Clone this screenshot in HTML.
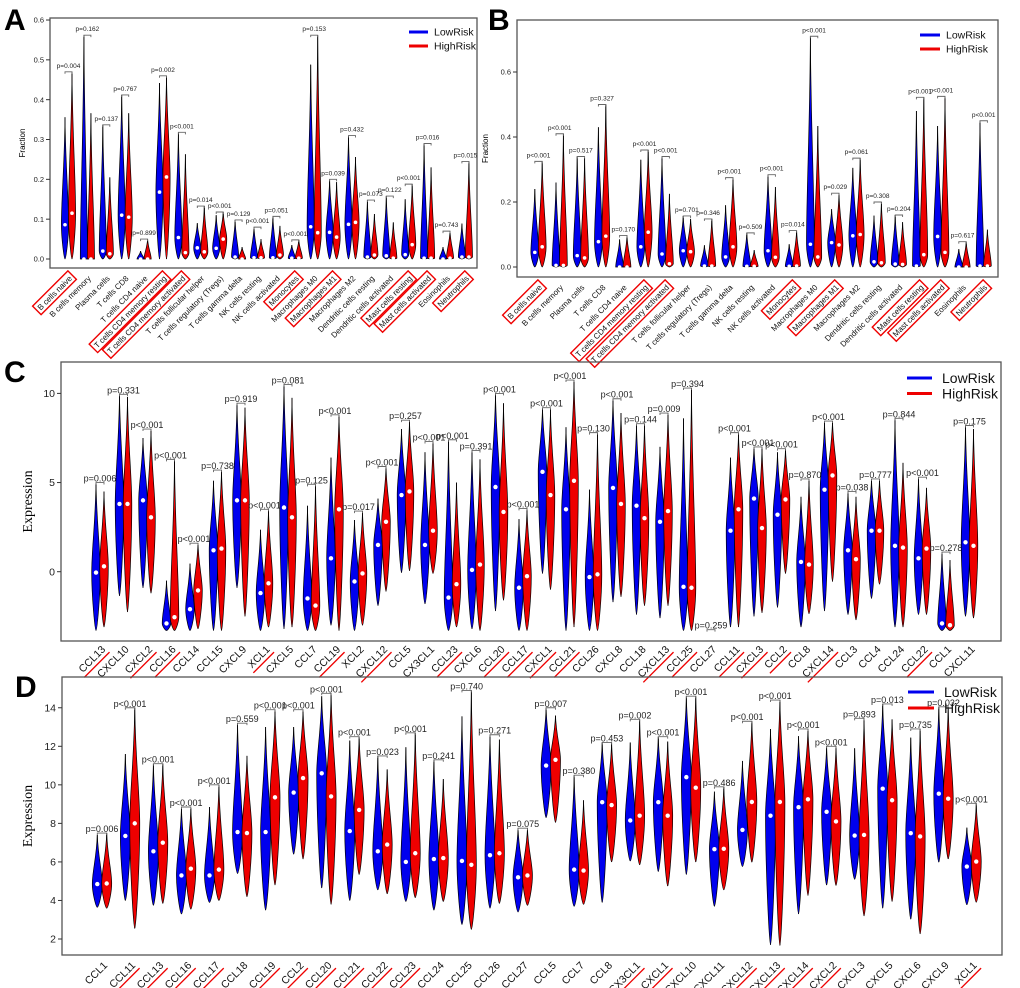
<!DOCTYPE html>
<html><head><meta charset="utf-8"><style>
html,body{margin:0;padding:0;background:#fff;}
svg{display:block;font-family:"Liberation Sans",sans-serif;}
</style></head><body>
<svg id="fig" width="1020" height="988" viewBox="0 0 1020 988" xmlns="http://www.w3.org/2000/svg">
<text x="4" y="30" font-size="30" font-weight="bold">A</text>
<text x="488" y="30" font-size="30" font-weight="bold">B</text>
<text x="4" y="382" font-size="30" font-weight="bold">C</text>
<text x="15" y="697" font-size="30" font-weight="bold">D</text>
</svg>
<script>
const cellCats=["B cells naive","B cells memory","Plasma cells","T cells CD8","T cells CD4 naive","T cells CD4 memory resting","T cells CD4 memory activated","T cells follicular helper","T cells regulatory (Tregs)","T cells gamma delta","NK cells resting","NK cells activated","Monocytes","Macrophages M0","Macrophages M1","Macrophages M2","Dendritic cells resting","Dendritic cells activated","Mast cells resting","Mast cells activated","Eosinophils","Neutrophils"];
const cellMarked=[1,0,0,0,0,1,1,0,0,0,0,0,1,0,1,0,0,0,1,1,0,1];
const aLowMed=[.086,0,.02,.11,0,.168,.054,.028,.027,.005,.003,.003,.002,.081,.067,.087,.005,.008,.011,.002,0,.005];
const aLowMax=[.356,.562,.337,.412,.02,.442,.318,.09,.11,.098,.08,.107,.035,.488,.2,.31,.148,.158,.15,.29,.03,.089];
const aHighMed=[.115,0,.013,.105,0,.206,.016,.018,.05,0,.003,.01,.002,.066,.055,.092,.01,.002,.036,.002,.002,.005];
const aHighMax=[.47,.366,.205,.366,.05,.46,.263,.133,.118,.03,.05,.083,.048,.562,.193,.256,.113,.092,.188,.23,.07,.245];
const aP=["p=0.004","p=0.162","p=0.137","p=0.767","p=0.899","p=0.002","p<0.001","p=0.014","p<0.001","p=0.129","p<0.001","p=0.051","p<0.001","p=0.153","p=0.039","p=0.432","p=0.073","p=0.122","p<0.001","p=0.016","p=0.743","p=0.015"];
const bLowMed=[.045,.005,.035,.078,0,.062,.04,.05,.003,.031,.002,.05,.002,.07,.075,.096,.016,.009,.003,.094,0,.003];
const bLowMax=[.24,.26,.34,.43,.085,.33,.34,.157,.067,.19,.105,.284,.07,.71,.178,.305,.158,.16,.48,.434,.055,.45];
const bHighMed=[.062,.005,.028,.095,0,.107,.01,.047,.003,.062,.002,.03,.003,.031,.068,.1,.013,.008,.038,.045,0,.003];
const bHighMax=[.325,.41,.335,.5,.097,.36,.225,.148,.148,.275,.052,.246,.112,.434,.227,.335,.2,.138,.522,.525,.078,.115];
const bP=["p<0.001","p<0.001","p=0.517","p=0.327","p=0.170","p<0.001","p<0.001","p=0.701","p=0.346","p<0.001","p=0.509","p<0.001","p=0.014","p<0.001","p=0.029","p=0.061","p=0.308","p=0.204","p<0.001","p<0.001","p=0.617","p<0.001"];
const fracTicks=[0,0.1,0.2,0.3,0.4,0.5,0.6];
const fracTickLabels=["0.0","0.1","0.2","0.3","0.4","0.5","0.6"];
const bTicks=[0,0.2,0.4,0.6];
const bTickLabels=["0.0","0.2","0.4","0.6"];

const cCats=["CCL13","CXCL10","CXCL2","CCL16","CCL14","CCL15","CXCL9","XCL1","CXCL5","CCL7","CCL19","XCL2","CXCL12","CCL5","CX3CL1","CCL23","CXCL6","CCL20","CCL17","CXCL1","CCL21","CCL26","CXCL8","CCL18","CXCL13","CCL25","CCL27","CCL11","CXCL3","CCL2","CCL8","CXCL14","CCL3","CCL4","CCL24","CCL22","CCL1","CXCL11"];
const cMarked=[1,0,1,1,0,0,0,1,0,0,1,0,1,0,0,1,0,1,1,1,1,0,0,0,1,1,0,1,1,1,0,1,0,0,0,1,0,0];
const cLowMin=[-3.3,-1.35,-0.9,-3.3,-3.3,-3.3,-0.9,-3.3,-3.2,-3.3,-3.0,-3.3,-1.9,-0.05,-1.8,-3.3,-3.2,-2.2,-3.3,-0.1,-3.3,-3.3,-1.7,-2.4,-2.6,-3.3,-3.3,-3.1,-2.5,-2.0,-3.1,-2.2,-2.4,-1.5,-3.1,-2.4,-3.3,-2.5];
const cLowMed=[-0.05,3.8,4.0,-2.9,-2.1,1.2,4.0,-1.2,3.6,-1.5,0.75,-0.55,1.5,4.3,1.5,-1.45,0.1,4.75,-0.9,5.6,3.5,-0.3,4.7,3.7,2.8,-0.85,-3.3,2.3,4.1,3.2,0.55,4.6,1.2,2.3,1.45,0.75,-2.9,1.65];
const cLowMax=[5.0,9.95,7.5,-0.5,0.45,5.1,9.45,2.35,10.5,3.7,6.4,2.9,4.1,8.0,6.7,7.4,6.8,10.0,2.95,9.2,8.1,4.6,9.7,8.25,7.0,8.6,-3.3,6.4,7.0,6.7,4.2,8.4,4.5,5.2,8.6,5.3,1.1,8.2];
const cHighMin=[-3.1,-2.25,-1.2,-3.3,-3.2,-3.3,-2.5,-3.1,-3.1,-3.3,-3.3,-3.0,-1.1,0.05,-0.1,-3.1,-3.3,-1.6,-3.3,-1.0,-3.1,-3.3,-1.4,-1.9,-1.9,-3.3,-3.3,-3.1,-2.3,-0.1,-2.35,-0.55,-2.7,-0.7,-3.1,-2.4,-3.3,-2.6];
const cHighMed=[0.3,3.8,3.05,-2.55,-1.05,1.3,4.0,-0.65,3.05,-1.9,3.5,-0.1,2.8,4.5,2.3,-0.7,0.4,3.35,-0.25,4.3,5.1,-0.15,3.8,3.0,3.4,-0.9,-3.3,3.5,2.45,4.05,0.4,5.4,0.7,2.3,1.35,1.3,-3.0,1.45];
const cHighMax=[4.5,9.8,8.0,6.3,1.6,5.7,9.2,3.5,9.75,4.9,8.8,3.4,5.9,8.5,7.3,5.0,6.3,9.45,3.55,9.1,10.75,7.8,8.9,8.3,8.9,10.3,-3.25,7.8,7.0,6.9,5.2,8.45,4.2,5.2,6.1,4.7,0.65,8.0];
const cP=["p=0.006","p=0.331","p<0.001","p<0.001","p<0.001","p=0.738","p=0.919","p<0.001","p=0.081","p=0.125","p<0.001","p=0.017","p<0.001","p=0.257","p<0.001","p<0.001","p=0.391","p<0.001","p<0.001","p<0.001","p<0.001","p=0.130","p<0.001","p=0.144","p=0.009","p=0.394","p=0.259","p<0.001","p<0.001","p<0.001","p=0.870","p<0.001","p=0.038","p=0.777","p=0.844","p<0.001","p=0.278","p=0.175"];
const cTicks=[0,5,10];
const cTickLabels=["0","5","10"];

const dCats=["CCL1","CCL11","CCL13","CCL16","CCL17","CCL18","CCL19","CCL2","CCL20","CCL21","CCL22","CCL23","CCL24","CCL25","CCL26","CCL27","CCL5","CCL7","CCL8","CX3CL1","CXCL1","CXCL10","CXCL11","CXCL12","CXCL13","CXCL14","CXCL2","CXCL3","CXCL5","CXCL6","CXCL9","XCL1"];
const dMarked=[0,1,1,1,1,0,1,1,1,1,1,1,0,0,0,0,0,0,0,1,1,0,0,1,1,1,1,0,0,0,0,1];
const dLowMin=[3.65,4.0,3.75,3.3,3.9,5.4,3.5,6.4,4.65,4.0,4.55,3.95,3.5,2.75,3.6,3.4,8.3,3.7,3.9,6.05,5.5,5.35,3.7,5.76,1.7,3.3,4.8,5.1,3.6,3.03,5.99,3.78];
const dLowMed=[4.85,7.35,6.55,5.3,5.3,7.55,7.55,9.6,10.6,7.6,6.55,6.0,6.15,6.05,6.35,5.2,11.0,5.6,9.1,8.15,9.1,10.4,6.66,7.66,8.4,8.84,8.6,7.37,9.8,7.49,9.54,5.76];
const dLowMax=[7.4,11.6,11.1,8.85,8.85,13.2,13.0,13.0,14.6,12.3,11.5,11.95,11.3,13.55,12.6,7.75,14.0,10.5,12.2,12.2,12.5,14.6,9.65,11.24,12.9,12.53,12.0,11.9,14.2,12.45,14.05,7.78];
const dHighMin=[3.6,2.55,3.85,3.55,4.0,4.2,4.8,6.15,3.8,5.35,4.35,4.15,3.95,2.5,3.85,3.75,8.05,3.8,6.0,5.85,4.75,6.0,4.55,5.99,1.67,4.26,4.78,3.2,3.95,2.27,6.16,3.91];
const dHighMed=[4.88,8.0,7.0,5.65,5.6,7.5,9.35,10.35,9.4,8.7,6.9,6.45,6.2,5.85,6.45,5.3,11.3,5.55,8.95,8.4,8.4,9.85,6.68,9.11,9.11,9.25,8.1,7.4,9.2,7.32,9.28,6.02];
const dHighMax=[7.5,14.0,11.1,8.8,10.0,11.5,13.9,13.9,14.75,12.5,10.8,12.7,10.3,14.9,12.35,7.75,13.6,9.2,12.2,13.4,12.25,14.6,9.9,13.3,14.4,12.9,12.0,13.45,13.4,12.9,14.05,9.04];
const dP=["p=0.006","p<0.001","p<0.001","p<0.001","p<0.001","p=0.559","p<0.001","p<0.001","p<0.001","p<0.001","p=0.023","p<0.001","p=0.241","p=0.740","p=0.271","p=0.075","p=0.007","p=0.380","p=0.453","p=0.002","p<0.001","p<0.001","p=0.486","p<0.001","p<0.001","p<0.001","p<0.001","p=0.893","p=0.013","p=0.735","p=0.032","p<0.001"];
const dTicks=[2,4,6,8,10,12,14];
const dTickLabels=["2","4","6","8","10","12","14"];

const NS="http://www.w3.org/2000/svg";
const svg=document.getElementById('fig');
function mk(tag,attrs,parent){const e=document.createElementNS(NS,tag);for(const k in attrs)e.setAttribute(k,attrs[k]);(parent||svg).appendChild(e);return e;}

function violinPath(x,yMin,yMed,yMax,w){
  const a=yMed+(yMin-yMed)*0.4, b=yMed-(yMed-yMax)*0.25, c=yMed-(yMed-yMax)*0.55;
  return `M${x},${yMin} C${x+w*0.25},${yMin} ${x+w},${a} ${x+w},${yMed} C${x+w},${b} ${x+w*0.15},${c} ${x},${yMax} C${x-w*0.15},${c} ${x-w},${b} ${x-w},${yMed} C${x-w},${a} ${x-w*0.25},${yMin} ${x},${yMin} Z`;
}

function panel(cfg,cats,marked,lowMin,lowMed,lowMax,highMin,highMed,highMax,pv,ticks,tickLabels){
  const g=mk('g',{});
  
  
  const yOf=v=>cfg.yBase-(v-cfg.vBase)*cfg.scale;
  const xOf=i=>cfg.cx0+i*cfg.step;
  const fr=mk('rect',{x:cfg.x0,y:cfg.y0,width:cfg.x1-cfg.x0,height:cfg.y1-cfg.y0,fill:'none',stroke:'#555','stroke-width':1.3},g);
  
  
  ticks.forEach((t,k)=>{
    const y=yOf(t);
    const tl=mk('line',{x1:cfg.x0-4,x2:cfg.x0,y1:y,y2:y,stroke:'#333','stroke-width':1},g);
    
    
    const tx=mk('text',{x:cfg.x0-6,y:y+cfg.tickFont*0.35,'font-size':cfg.tickFont,'text-anchor':'end',fill:'#222'},g);
    tx.textContent=tickLabels[k];
    
    
  });
  const yt=mk('text',{x:cfg.ytX,y:(cfg.y0+cfg.y1)/2,'font-size':cfg.ytFont,'text-anchor':'middle',transform:`rotate(-90 ${cfg.ytX} ${(cfg.y0+cfg.y1)/2})`,'font-family':cfg.ytFamily},g);
  yt.textContent=cfg.ytitle;
  
  
  const clipMin=cfg.clipMin;
  cats.forEach((cat,i)=>{
    const cx=xOf(i);
    const sets=[[cx-cfg.off,lowMin?lowMin[i]:0,lowMed[i],lowMax[i],'#0000ee','low'],[cx+cfg.off,highMin?highMin[i]:0,highMed[i],highMax[i],'#ee0000','high']];
    sets.forEach(s=>{
      const [x,mn,md,mx,col,nm]=s;
      const y0=yOf(Math.max(mn,clipMin)),ym=yOf(Math.max(md,clipMin)),y1=yOf(mx);
      if(y0-y1<1)return;
      const ln=mk('line',{x1:x,x2:x,y1:y0,y2:y1,stroke:'#111','stroke-width':0.9},g);
      
      
      const p=mk('path',{d:violinPath(x,y0,ym,y1,cfg.w),fill:col,stroke:'#000','stroke-width':0.7},g);
      
      
      const dot=mk('circle',{cx:x,cy:ym-(md<=clipMin+0.001?cfg.dot*0.3:0),r:cfg.dot,fill:'#fff'},g);
      
      
    });
    const top=yOf(Math.max(lowMax[i],highMax[i]));
    const br=mk('path',{d:`M${cx-cfg.off},${top+2} L${cx-cfg.off},${top} L${cx+cfg.off},${top} L${cx+cfg.off},${top+2}`,fill:'none',stroke:'#666','stroke-width':0.9},g);
    
    
    const pt=mk('text',{x:cx,y:top-cfg.pGap,'font-size':cfg.pFont,'text-anchor':'middle',fill:'#222'},g);
    pt.textContent=pv[i];
    
    
    const lx=cx+cfg.lxOff, ly=cfg.labelY;
    const lg=mk('g',{transform:`translate(${lx},${ly}) rotate(-45)`},g);
    const t=mk('text',{x:0,y:0,'font-size':cfg.labFont,'text-anchor':'end',fill:'#111'},lg);
    t.textContent=cat;
    
    
    if(marked[i]){
      const L=t.getComputedTextLength();
      if(cfg.box){
        const r=mk('rect',{x:-L-2.5,y:-cfg.labFont-1,width:L+5,height:cfg.labFont+4,fill:'none',stroke:'#ee0000','stroke-width':1.4},lg);
        
        
      }else{
        const u=mk('line',{x1:-L-2,x2:1,y1:4,y2:4,stroke:'#ee0000','stroke-width':1.3},lg);
        
        
      }
    }
  });
  const L=cfg.leg;
  [['LowRisk','#0000ee',0],['HighRisk','#ee0000',1]].forEach(e=>{
    const y=L.y+e[2]*L.dy;
    const ll=mk('line',{x1:L.x,x2:L.x+L.len,y1:y,y2:y,stroke:e[1],'stroke-width':3},g);
    
    
    const lt=mk('text',{x:L.x+L.len+L.gap,y:y+L.font*0.35,'font-size':L.font,fill:'#111'},g);
    lt.textContent=e[0];
    
    
  });
}

panel({name:'panel-a',x0:50,x1:477,y0:18,y1:268,yBase:259,vBase:0,scale:398.3,cx0:68.5,step:18.9,off:3.5,w:3.6,dot:1.8,clipMin:-1,pFont:6.5,pGap:4,labFont:8,labelY:279,lxOff:4,box:true,tickFont:7.5,ytX:25,ytFont:8,ytFamily:'Liberation Sans',ytitle:'Fraction',leg:{x:409,y:32,dy:14,len:19,gap:6,font:10.5}},
  cellCats,cellMarked,null,aLowMed,aLowMax,null,aHighMed,aHighMax,aP,fracTicks,fracTickLabels);
panel({name:'panel-b',x0:517,x1:998,y0:20,y1:277,yBase:267,vBase:0,scale:325,cx0:538.5,step:21.2,off:3.7,w:3.9,dot:1.8,clipMin:-1,pFont:6.5,pGap:4,labFont:8,labelY:288,lxOff:4,box:true,tickFont:7.5,ytX:488,ytFont:8,ytFamily:'Liberation Sans',ytitle:'Fraction',leg:{x:920,y:35,dy:14,len:20,gap:6,font:10.5}},
  cellCats,cellMarked,null,bLowMed,bLowMax,null,bHighMed,bHighMax,bP,bTicks,bTickLabels);
panel({name:'panel-c',x0:61,x1:1001,y0:362,y1:641,yBase:571.7,vBase:0,scale:17.83,cx0:100,step:23.5,off:4,w:4.3,dot:2.2,clipMin:-3.3,pFont:9,pGap:1,labFont:10.5,labelY:650,lxOff:6,box:false,tickFont:10.5,ytX:32,ytFont:14,ytFamily:'Liberation Serif',ytitle:'Expression',leg:{x:907,y:378,dy:15.5,len:25,gap:10,font:14}},
  cCats,cMarked,cLowMin,cLowMed,cLowMax,cHighMin,cHighMed,cHighMax,cP,cTicks,cTickLabels);
panel({name:'panel-d',x0:62,x1:1002,y0:677,y1:955,yBase:939,vBase:2,scale:19.27,cx0:102,step:28.05,off:4.7,w:5,dot:2.2,clipMin:0,pFont:9,pGap:1,labFont:10.5,labelY:966,lxOff:6,box:false,tickFont:10.5,ytX:32,ytFont:14,ytFamily:'Liberation Serif',ytitle:'Expression',leg:{x:908,y:692,dy:16,len:26,gap:10,font:14}},
  dCats,dMarked,dLowMin,dLowMed,dLowMax,dHighMin,dHighMed,dHighMax,dP,dTicks,dTickLabels);
</script>
</body></html>
